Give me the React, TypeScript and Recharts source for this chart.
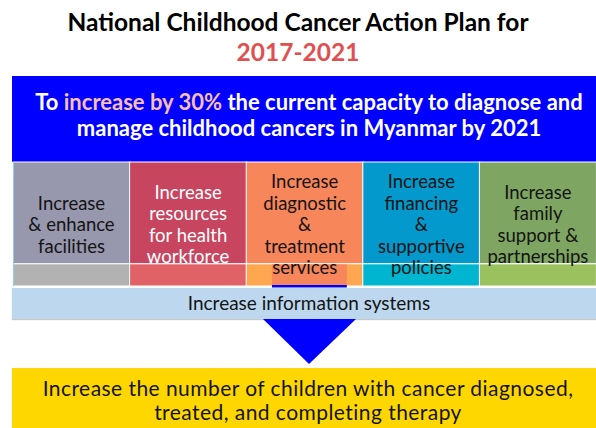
import React from 'react';
import { BarChart, Bar, XAxis, YAxis } from 'recharts';

// the five pillars of the plan
const pillarNames = ['Facilities', 'Health workforce', 'Diagnostic & treatment', 'Financing & policies', 'Family support'];
const pillarLines = [
  ['Increase', '& enhance', 'facilities'],
  ['Increase', 'resources', 'for health', 'workforce'],
  ['Increase', 'diagnostic', '&', 'treatment', 'services'],
  ['Increase', 'financing', '&', 'supportive', 'policies'],
  ['Increase', 'family', 'support &', 'partnerships'],
];
// share of each column: main block and the lighter strip at its foot
const mainShare = [0.82, 0.82, 0.82, 0.82, 0.82];
const bandShare = [0.18, 0.18, 0.18, 0.18, 0.18];

const mainColors = ['#9797ad', '#c8455f', '#f7865a', '#0399cc', '#7ea662'];
const bandColors = ['#b2b2b2', '#e06266', '#ffa650', '#00b5cf', '#9bc15f'];
const textColors = ['#141414', '#ffffff', '#141414', '#141414', '#141414'];

const titleLine = 'National Childhood Cancer Action Plan for';
const titleYears = '2017-2021';
const goalHighlight = 'increase by 30%';
const goalRest = ' the current capacity to diagnose and';
const goalLine2 = 'manage childhood cancers in Myanmar by 2021';
const infoText = 'Increase information systems';
const outcomeLines = ['Increase the number of children with cancer diagnosed,', 'treated, and completing therapy'];

const data = pillarNames.map((name, i) => ({ name, band: bandShare[i], main: mainShare[i] }));

const FONT = 'Lato, "Open Sans", sans-serif';

const BandShape = (props: any) => {
  const { x, y, width, height, index } = props;
  return (
    <g>
      <rect x={x} y={y} width={width} height={height} fill={bandColors[index]} stroke="#ffffff" strokeWidth={1} />
      {index === 2 && (
        <g>
          <rect x={x + width * 0.22} y={y} width={width * 0.64} height={height} fill={mainColors[index]} />
          <rect x={x + width * 0.22} y={y + height - 1} width={width * 0.64} height={2.5} fill="#0000ff" />
        </g>
      )}
    </g>
  );
};

const MainShape = (props: any) => {
  const { x, y, width, height, index } = props;
  const lines = pillarLines[index];
  const bandH = (height * bandShare[index]) / mainShare[index];
  const cy = y + (height + bandH) / 2;
  const lh = 21.5;
  const start = cy - ((lines.length - 1) * lh) / 2;
  return (
    <g>
      <rect x={x} y={y} width={width} height={height} fill={mainColors[index]} stroke="#ffffff" strokeWidth={1} />
      {index === 0 && <line x1={x + 0.5} y1={y} x2={x + 0.5} y2={y + height + bandH} stroke="#8fd3e6" strokeWidth={1} />}
      {lines.map((t, k) => (
        <text
          key={k}
          x={x + width / 2}
          y={start + k * lh}
          textAnchor="middle"
          dominantBaseline="central"
          fill={textColors[index]}
          style={{ fontFamily: FONT, fontSize: 18.5 }}
        >
          {t}
        </text>
      ))}
    </g>
  );
};

const App: React.FC = () => {
  return (
    <div style={{ position: 'relative', width: 596, height: 428, background: '#ffffff', fontFamily: FONT, overflow: 'hidden' }}>
      <style>{'body{margin:0}'}</style>

      {/* title */}
      <div style={{ position: 'absolute', left: 0, top: 7, width: 596, textAlign: 'center', fontWeight: 700, fontSize: 24.5, lineHeight: '30px', color: '#000' }}>
        <div>{titleLine}</div>
        <div style={{ color: '#e05050' }}>{titleYears}</div>
      </div>

      {/* goal box */}
      <div style={{ position: 'absolute', left: 12, top: 76, width: 584, height: 86, background: '#0000ff', color: '#fff', fontWeight: 700, fontSize: 22, lineHeight: '26px', textAlign: 'center', paddingTop: 13, paddingLeft: 10, boxSizing: 'border-box' }}>
        <div>
          To <span style={{ color: '#f8bfae' }}>{goalHighlight}</span>{goalRest}
        </div>
        <div>{goalLine2}</div>
      </div>

      {/* pillars */}
      <div style={{ position: 'absolute', left: 0, top: 0 }}>
        <BarChart width={596} height={428} data={data} margin={{ top: 162, right: 0, bottom: 142, left: 13 }} barCategoryGap={0}>
          <XAxis dataKey="name" hide />
          <YAxis hide domain={[0, 1]} />
          <Bar dataKey="band" stackId="p" shape={<BandShape />} isAnimationActive={false} />
          <Bar dataKey="main" stackId="p" shape={<MainShape />} isAnimationActive={false} />
        </BarChart>
      </div>

      {/* information systems bar */}
      <div style={{ position: 'absolute', left: 12, top: 288, width: 584, height: 31, background: '#bdd7ee', boxShadow: '0 1px 1px #c8c8c8', textAlign: 'center', fontSize: 19, lineHeight: '29px', paddingLeft: 10, boxSizing: 'border-box', color: '#141414' }}>
        {infoText}
      </div>

      {/* arrow */}
      <svg style={{ position: 'absolute', left: 0, top: 319 }} width={596} height={50}>
        <polygon points="263,0 356,0 309,45" fill="#0000ff" />
      </svg>

      {/* outcome box */}
      <div style={{ position: 'absolute', left: 12, top: 368, width: 584, height: 60, background: '#ffd700', textAlign: 'center', fontSize: 21, letterSpacing: 0.45, lineHeight: '23.5px', paddingTop: 8, paddingLeft: 8, boxSizing: 'border-box', color: '#141414' }}>
        <div>{outcomeLines[0]}</div>
        <div>{outcomeLines[1]}</div>
      </div>
    </div>
  );
};

export default App;
